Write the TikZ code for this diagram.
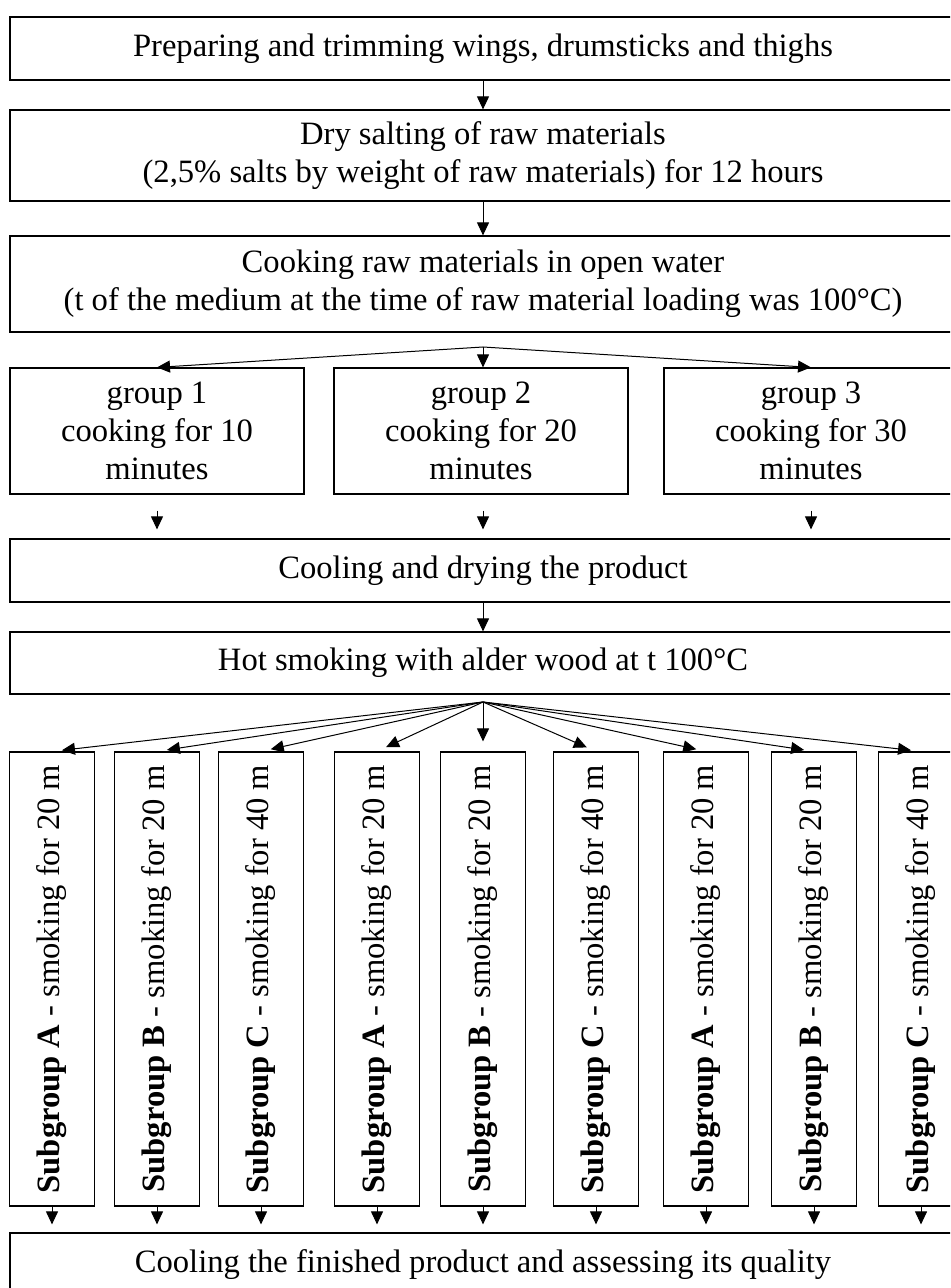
\documentclass[tikz,border=0pt]{standalone}
\usepackage{fontspec}
\setmainfont{Liberation Serif}
\usetikzlibrary{arrows.meta}

\begin{document}
\begin{tikzpicture}[x=0.5pt, y=-0.5pt,
    font=\fontsize{16.3pt}{19pt}\selectfont,
    stagebox/.style={draw, line width=0.6pt, align=center, inner sep=0pt, minimum width=473pt},
    groupbox/.style={draw, line width=0.6pt, align=center, inner sep=0pt, minimum width=147pt, minimum height=63pt},
    subbox/.style={draw, line width=0.6pt, rotate=90, inner sep=0pt, minimum width=227pt, minimum height=42.5pt},
    arr/.style={line width=0.5pt, -{Triangle[width=6pt, length=6.5pt]}}]
    \useasboundingbox (0,0) rectangle (950,1288);
    \clip (0,0) rectangle (950,1288);

    % Draw main stages
    \node[stagebox, minimum height=31.5pt] (prep) at (483, 48.5) {Preparing and trimming wings, drumsticks and thighs};
    \node[stagebox, minimum height=45.5pt] (salt) at (483, 155.5) {Dry salting of raw materials\\(2,5\% salts by weight of raw materials) for 12 hours};
    \node[stagebox, minimum height=48pt] (cook) at (483, 284) {Cooking raw materials in open water\\(t of the medium at the time of raw material loading was 100°C)};

    % Draw cooking groups
    \node[groupbox] (group1) at (157, 431) {group 1\\cooking for 10\\minutes};
    \node[groupbox] (group2) at (481, 431) {group 2\\cooking for 20\\minutes};
    \node[groupbox] (group3) at (811, 431) {group 3\\cooking for 30\\minutes};

    \node[stagebox, minimum height=31.5pt] (cool) at (483, 570.5) {Cooling and drying the product};
    \node[stagebox, minimum height=31pt] (smoke) at (483, 663) {Hot smoking with alder wood at t 100°C};

    % Draw smoking subgroups
    \node[subbox] (subA1) at (52, 979) {\textbf{Subgroup A} - smoking for 20 m};
    \node[subbox] (subB1) at (157, 979) {\textbf{Subgroup B} - smoking for 20 m};
    \node[subbox] (subC1) at (261, 979) {\textbf{Subgroup C} - smoking for 40 m};
    \node[subbox] (subA2) at (377, 979) {\textbf{Subgroup A} - smoking for 20 m};
    \node[subbox] (subB2) at (483, 979) {\textbf{Subgroup B} - smoking for 20 m};
    \node[subbox] (subC2) at (596, 979) {\textbf{Subgroup C} - smoking for 40 m};
    \node[subbox] (subA3) at (706, 979) {\textbf{Subgroup A} - smoking for 20 m};
    \node[subbox] (subB3) at (814, 979) {\textbf{Subgroup B} - smoking for 20 m};
    \node[subbox] (subC3) at (921, 979) {\textbf{Subgroup C} - smoking for 40 m};

    \node[stagebox, minimum height=31.5pt] (final) at (483, 1264.5) {Cooling the finished product and assessing its quality};

    % Split points
    \coordinate (split1) at (483, 347);
    \coordinate (split2) at (483, 702);

    % Draw arrows
    \draw[arr] (prep) -- (salt);
    \draw[arr] (salt) -- (cook);

    \draw[arr] (split1) -- (group1.north);
    \draw[arr] (split1) -- (group2.north -| split1);
    \draw[arr] (split1) -- (group3.north);

    \draw[arr, shorten <=8pt, shorten >=4.5pt] (group1.south) -- (group1.south |- cool.north);
    \draw[arr, shorten <=8pt, shorten >=4.5pt] (group2.south -| split1) -- (cool.north);
    \draw[arr, shorten <=8pt, shorten >=4.5pt] (group3.south) -- (group3.south |- cool.north);

    \draw[arr] (cool) -- (smoke);

    \draw[arr, shorten >=5pt] (split2) -- (subA1.east);
    \draw[arr, shorten >=5pt] (split2) -- (subB1.east);
    \draw[arr, shorten >=5pt] (split2) -- (subC1.east);
    \draw[arr, shorten >=5pt] (split2) -- (subA2.east);
    \draw[arr, shorten >=5pt] (split2) -- (subB2.east);
    \draw[arr, shorten >=5pt] (split2) -- (subC2.east);
    \draw[arr, shorten >=5pt] (split2) -- (subA3.east);
    \draw[arr, shorten >=5pt] (split2) -- (subB3.east);
    \draw[arr, shorten >=5pt] (split2) -- (subC3.east);

    \draw[arr, shorten >=4pt] (subA1.west) -- (subA1.west |- final.north);
    \draw[arr, shorten >=4pt] (subB1.west) -- (subB1.west |- final.north);
    \draw[arr, shorten >=4pt] (subC1.west) -- (subC1.west |- final.north);
    \draw[arr, shorten >=4pt] (subA2.west) -- (subA2.west |- final.north);
    \draw[arr, shorten >=4pt] (subB2.west) -- (subB2.west |- final.north);
    \draw[arr, shorten >=4pt] (subC2.west) -- (subC2.west |- final.north);
    \draw[arr, shorten >=4pt] (subA3.west) -- (subA3.west |- final.north);
    \draw[arr, shorten >=4pt] (subB3.west) -- (subB3.west |- final.north);
    \draw[arr, shorten >=4pt] (subC3.west) -- (subC3.west |- final.north);
\end{tikzpicture}
\end{document}
